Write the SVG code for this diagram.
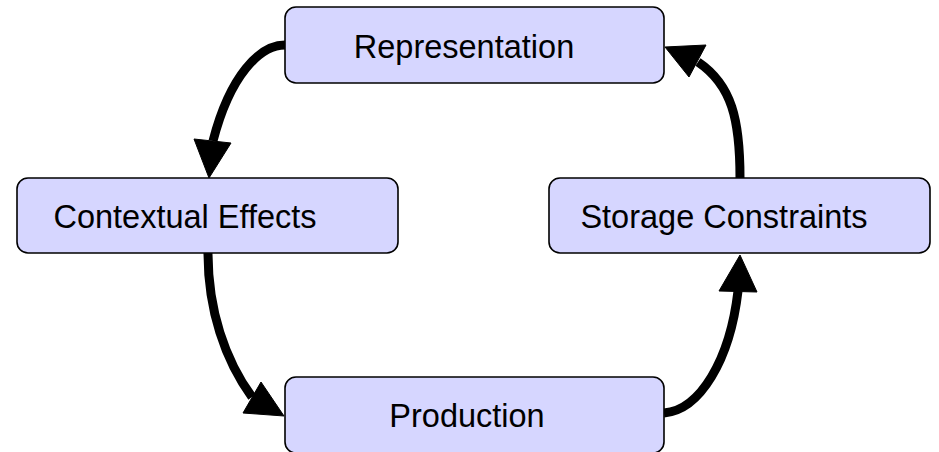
<svg xmlns="http://www.w3.org/2000/svg" width="939" height="452" viewBox="0 0 939 452">
  <style>
    .box { fill: #d6d6ff; stroke: #000000; stroke-width: 1.6; }
    .label { font-family: "Liberation Sans", Arial, sans-serif; font-size: 32.5px; fill: #000000; text-anchor: middle; }
    .edge { fill: none; stroke: #000000; stroke-width: 9; }
    .head { fill: #000000; stroke: #000000; stroke-width: 1; stroke-linejoin: miter; }
  </style>
  <rect width="939" height="452" fill="#ffffff"/>
  <g id="connectors">
    <path class="edge" d="M285,45 C260,45 230,75 213,141"/>
    <polygon class="head" points="209,178 194,139 231,143"/>
    <path class="edge" d="M208,253 C208,310 225,360 252,397"/>
    <polygon class="head" points="284,416 243,413 261,382"/>
    <path class="edge" d="M664,413 C700,410 730,360 738,291"/>
    <polygon class="head" points="740,255 719,291 757,292"/>
    <path class="edge" d="M740,178 C740,120 732,85 698,62"/>
    <polygon class="head" points="665,47 706,45 689,77"/>
  </g>
  <g id="node-representation">
    <rect class="box" x="285" y="7" width="379" height="76" rx="11" ry="11"/>
    <text class="label" x="464" y="58">Representation</text>
  </g>
  <g id="node-contextual-effects">
    <rect class="box" x="17" y="178" width="381" height="75" rx="11" ry="11"/>
    <text class="label" x="185" y="228">Contextual Effects</text>
  </g>
  <g id="node-storage-constraints">
    <rect class="box" x="549" y="178" width="381" height="75" rx="11" ry="11"/>
    <text class="label" x="724" y="228">Storage Constraints</text>
  </g>
  <g id="node-production">
    <rect class="box" x="285" y="377" width="379" height="76" rx="11" ry="11"/>
    <text class="label" x="467" y="427">Production</text>
  </g>
</svg>
